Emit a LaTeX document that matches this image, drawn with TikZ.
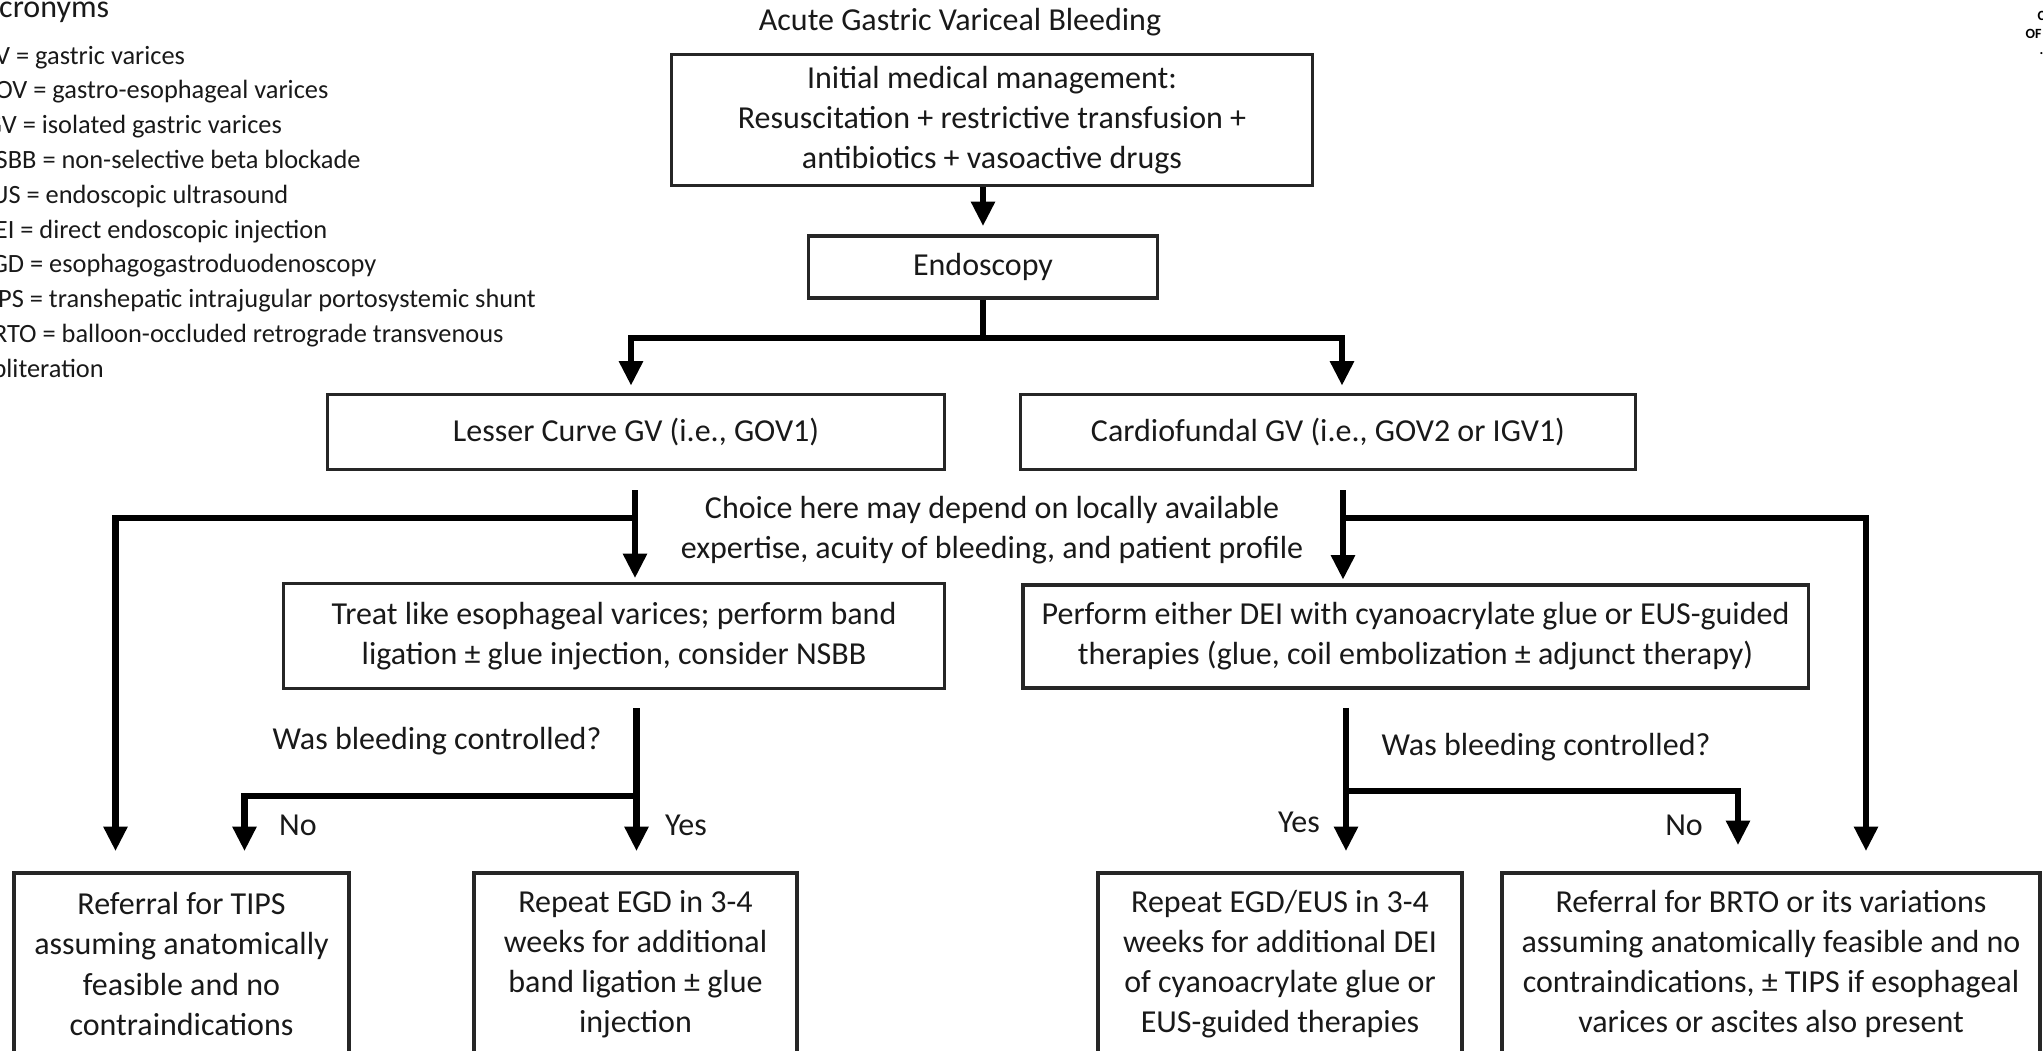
\documentclass[tikz,border=0pt]{standalone}
\usepackage{fontspec}
\setmainfont{Carlito}
\usetikzlibrary{arrows.meta,calc}
\tikzset{>={Triangle[length=7pt,width=6.5pt]}}

\newcommand{\boxfont}{\fontsize{9.1pt}{11.4pt}\selectfont}
\newcommand{\acrfont}{\fontsize{7.5pt}{9.9pt}\selectfont}
\newcommand{\tagfont}{\fontsize{4pt}{4.8pt}\selectfont\bfseries}

\tikzset{
  box/.style={draw=black!85, line width=1pt, inner sep=0pt, align=center, text=black!90, font=\boxfont},
  txt/.style={inner sep=0pt, text=black!90, font=\boxfont},
  acr/.style={inner sep=0pt, anchor=base west, text=black!90, font=\acrfont},
  conn/.style={line width=1.8pt},
}

\begin{document}
\begin{tikzpicture}[x=0.01cm,y=-0.01cm]

\useasboundingbox (0,0) rectangle (2043,1050);
\clip (0,0) rectangle (2043,1050);

% acronyms (cut off on the left)
\node[txt,anchor=base west] (acrhead) at (-20,17) {Acronyms};
\node[acr] (acr1) at (-22,64) {GV = gastric varices};
\node[acr] (acr2) at (-22,98.8) {GOV = gastro-esophageal varices};
\node[acr] (acr3) at (-22,133.6) {IGV = isolated gastric varices};
\node[acr] (acr4) at (-22,168.4) {NSBB = non-selective beta blockade};
\node[acr] (acr5) at (-22,203.2) {EUS = endoscopic ultrasound};
\node[acr] (acr6) at (-22,238) {DEI = direct endoscopic injection};
\node[acr] (acr7) at (-22,272.8) {EGD = esophagogastroduodenoscopy};
\node[acr] (acr8) at (-22,307.6) {TIPS = transhepatic intrajugular portosystemic shunt};
\node[acr] (acr9) at (-22,342.4) {BRTO = balloon-occluded retrograde transvenous};
\node[acr] (acr10) at (-22,377.2) {obliteration};

% corner tag (cut off on the right)
\node[inner sep=0pt,anchor=base west,font=\tagfont] (tagA) at (2037,20) {C};
\node[inner sep=0pt,anchor=base west,font=\tagfont] (tagB) at (2025,38) {OF};
\node[inner sep=0pt,anchor=base west,font=\tagfont] (tagC) at (2039,54) {.};

% boxes
\node[txt,anchor=base] (title) at (960,30) {Acute Gastric Variceal Bleeding};
\node[box,minimum width=6.41cm,minimum height=1.31cm] (init) at (992,120) {Initial medical management:\\Resuscitation + restrictive transfusion +\\antibiotics + vasoactive drugs};
\node[box,minimum width=3.49cm,minimum height=0.62cm] (endo) at (983,267) {Endoscopy};
\node[box,minimum width=6.17cm,minimum height=0.75cm] (lesser) at (636,432) {Lesser Curve GV (i.e., GOV1)};
\node[box,minimum width=6.15cm,minimum height=0.75cm] (cardio) at (1328,432) {Cardiofundal GV (i.e., GOV2 or IGV1)};
\node[txt,align=center] (choice) at (992,530) {Choice here may depend on locally available\\expertise, acuity of bleeding, and patient profile};
\node[box,minimum width=6.61cm,minimum height=1.05cm] (treat) at (614,636) {Treat like esophageal varices; perform band\\ligation ± glue injection, consider NSBB};
\node[box,minimum width=7.85cm,minimum height=1.03cm] (perform) at (1415.5,636.5) {Perform either DEI with cyanoacrylate glue or EUS-guided\\therapies (glue, coil embolization ± adjunct therapy)};
\node[box,minimum width=3.35cm,minimum height=1.82cm] (tips) at (181.5,964) {Referral for TIPS\\assuming anatomically\\feasible and no\\contraindications};
\node[box,minimum width=3.23cm,minimum height=1.82cm] (egd) at (635.5,964) {Repeat EGD in 3-4\\weeks for additional\\band ligation ± glue\\injection};
\node[box,minimum width=3.64cm,minimum height=1.82cm] (egdeus) at (1280,964) {Repeat EGD/EUS in 3-4\\weeks for additional DEI\\of cyanoacrylate glue or\\EUS-guided therapies};
\node[box,minimum width=5.38cm,minimum height=1.82cm] (brto) at (1771,964) {Referral for BRTO or its variations\\assuming anatomically feasible and no\\contraindications, ± TIPS if esophageal\\varices or ascites also present};

% labels
\node[txt,anchor=base] (qleft) at (437,749) {Was bleeding controlled?};
\node[txt,anchor=base] (qright) at (1546,755) {Was bleeding controlled?};
\node[txt,anchor=base] (noleft) at (298,835) {No};
\node[txt,anchor=base] (yesleft) at (686,835) {Yes};
\node[txt,anchor=base] (yesright) at (1299,832) {Yes};
\node[txt,anchor=base] (noright) at (1684,835) {No};

% connectors
\draw[conn,->,shorten >=2.3pt] (endo.north |- init.south) -- (endo.north);
\draw[conn] (endo.south) -- ($(endo.south)+(0,38)$) coordinate (split);
\draw[conn,->,shorten >=2pt] (split) -| ($(lesser.north)+(-5,0)$);
\draw[conn,->,shorten >=2pt] (split) -| ($(cardio.north)+(14,0)$);

\coordinate (lout) at ($(lesser.south)+(-1,19)$);
\draw[conn,->,shorten >=1pt] (lout) -- (lout |- treat.north);
\draw[conn,->,shorten >=5.7pt] ($(lout)+(0,28)$) -| ($(tips.north)+(-66,0)$);

\coordinate (rout) at ($(cardio.south)+(15,19)$);
\draw[conn,->,shorten >=1pt] (rout) -- (rout |- perform.north);
\draw[conn,->,shorten >=5.7pt] ($(rout)+(0,28)$) -| ($(brto.north)+(95,0)$);

\coordinate (tout) at ($(egd.north |- treat.south)+(1,18)$);
\draw[conn,->,shorten >=5.7pt] (tout) -- (tout |- egd.north);
\draw[conn,->,shorten >=5.7pt] ($(tout)+(0,88)$) -| ($(tips.north)+(63,0)$);

\coordinate (pout) at ($(egdeus.north |- perform.south)+(66,18)$);
\draw[conn,->,shorten >=5.7pt] (pout) -- (pout |- egdeus.north);
\draw[conn,->,shorten >=7.4pt] ($(pout)+(0,83)$) -| ($(brto.north)+(-33,0)$);

\end{tikzpicture}
\end{document}
